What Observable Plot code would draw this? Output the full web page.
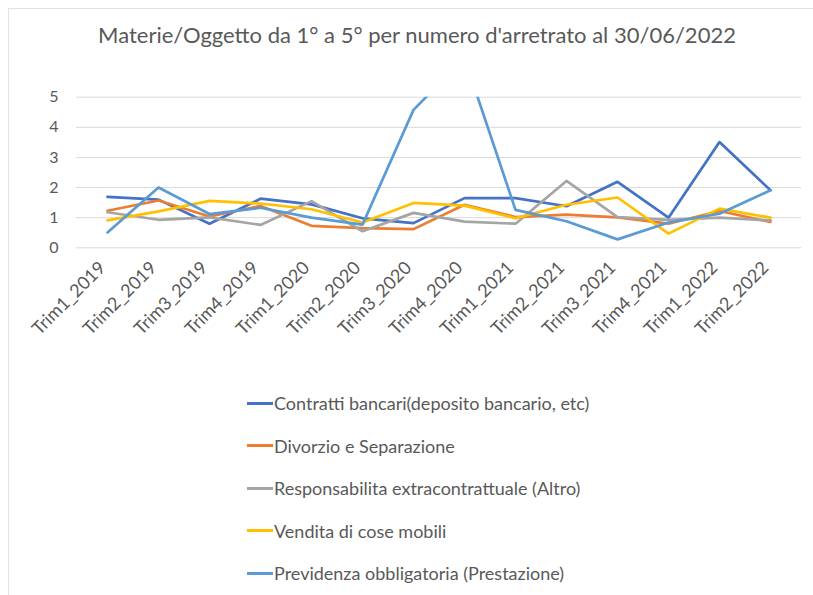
<!DOCTYPE html>
<html>
<head>
<meta charset="utf-8">
<script src="https://cdn.jsdelivr.net/npm/d3@7"></script>
<script src="https://cdn.jsdelivr.net/npm/@observablehq/plot@0.6"></script>
<style>
  html, body { margin: 0; padding: 0; background: #fff; overflow: hidden; width: 813px; height: 595px; }
  #frame { position: absolute; left: 8px; top: 8px; width: 900px; height: 700px; border: 1px solid #e3e3e3; box-sizing: border-box; }
  #title { position: absolute; left: 0; width: 834px; top: 21px; text-align: center; font-family: Lato, sans-serif; font-size: 22px; color: #595959; white-space: nowrap; }
  #chart { position: absolute; left: 0; top: 60px; }
  #legend { position: absolute; left: 247px; top: 390px; font-family: Lato, sans-serif; font-size: 18px; color: #595959; }
  .item { position: absolute; left: 0; white-space: nowrap; display: flex; align-items: center; height: 26px; }
  .swatch { width: 26px; height: 3px; margin-right: 1px; }
</style>
</head>
<body>
<div id="frame"></div>
<div id="title">Materie/Oggetto da 1° a 5° per numero d'arretrato al 30/06/2022</div>
<div id="chart"></div>
<div id="legend"></div>
<script>
const categories = ["Trim1_2019","Trim2_2019","Trim3_2019","Trim4_2019","Trim1_2020","Trim2_2020","Trim3_2020","Trim4_2020","Trim1_2021","Trim2_2021","Trim3_2021","Trim4_2021","Trim1_2022","Trim2_2022"];
const seriesNames = ["Contratti bancari(deposito bancario, etc)","Divorzio e Separazione","Responsabilita extracontrattuale (Altro)","Vendita di cose mobili","Previdenza obbligatoria (Prestazione)"];
const seriesColors = ["#4472C4","#ED7D31","#A5A5A5","#FFC000","#5B9BD5"];
const contratti      = [1.69,1.60,0.80,1.63,1.44,0.98,0.82,1.65,1.65,1.38,2.19,1.00,3.51,1.91];
const divorzio       = [1.23,1.57,1.04,1.39,0.73,0.65,0.62,1.43,1.02,1.10,1.01,0.80,1.22,0.86];
const responsabilita = [1.18,0.93,1.01,0.76,1.55,0.55,1.16,0.87,0.80,2.22,1.02,0.93,1.00,0.91];
const vendita        = [0.91,1.21,1.56,1.47,1.28,0.84,1.49,1.40,0.98,1.43,1.67,0.47,1.30,1.00];
const previdenza     = [0.51,2.00,1.12,1.33,1.00,0.77,4.58,6.30,1.26,0.88,0.28,0.84,1.13,1.91];
const yTicks = [0,1,2,3,4,5];

const allSeries = [contratti, divorzio, responsabilita, vendita, previdenza];
const data = [];
allSeries.forEach((vals, s) => vals.forEach((v, i) => data.push({cat: categories[i], value: v, series: seriesNames[s]})));

const chart = Plot.plot({
  width: 813,
  height: 310,
  marginLeft: 76,
  marginRight: 12,
  marginTop: 36.7,
  marginBottom: 122.7,
  style: {fontFamily: "Lato, sans-serif", color: "#595959", background: "transparent"},
  x: {type: "point", domain: categories, padding: 0.5, label: null},
  y: {domain: [0, 5], label: null},
  color: {domain: seriesNames, range: seriesColors},
  marks: [
    Plot.ruleY(yTicks, {stroke: "#d9d9d9", strokeWidth: 1}),
    Plot.axisY(yTicks, {tickSize: 0, tickPadding: 18, fontSize: 16, fill: "#595959", label: null}),
    Plot.axisX(categories, {tickSize: 0, tickPadding: 17, dx: -5, tickRotate: -45, fontSize: 18, fill: "#595959", label: null}),
    Plot.line(data, {x: "cat", y: "value", z: "series", stroke: "series", strokeWidth: 2.7, strokeLinejoin: "round", strokeLinecap: "round", clip: true})
  ]
});
document.getElementById("chart").appendChild(chart);

const legend = document.getElementById("legend");
seriesNames.forEach((name, i) => {
  const item = document.createElement("div");
  item.className = "item";
  item.style.top = (i * 42.5) + "px";
  const sw = document.createElement("span");
  sw.className = "swatch";
  sw.style.background = seriesColors[i];
  const t = document.createElement("span");
  t.textContent = name;
  item.appendChild(sw);
  item.appendChild(t);
  legend.appendChild(item);
});
</script>
</body>
</html>
